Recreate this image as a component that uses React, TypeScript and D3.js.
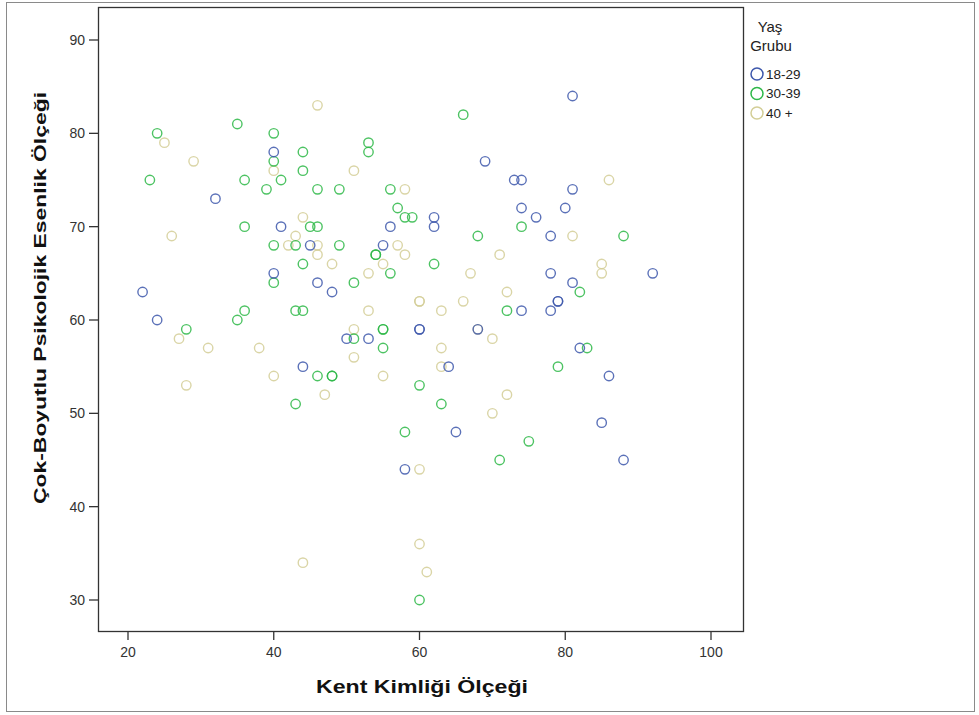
import React from "react";
import * as d3 from "d3";

const xTicks = [20, 40, 60, 80, 100];
const yTicks = [30, 40, 50, 60, 70, 80, 90];
const groups = ["18-29", "30-39", "40 +"];
const colors = ["#3E58AC", "#2EB848", "#D3CE97"];

const blueX = [22, 24, 32, 40, 40, 41, 45, 44, 46, 48, 50, 53, 55, 56, 60, 60, 62, 62, 64, 65, 58, 68, 69, 73, 74, 74, 76, 74, 78, 78, 78, 79, 79, 80, 81, 81, 81, 82, 85, 86, 88, 92];
const blueY = [63, 60, 73, 78, 65, 70, 68, 55, 64, 63, 58, 58, 68, 70, 59, 59, 71, 70, 55, 48, 44, 59, 77, 75, 75, 72, 71, 61, 69, 65, 61, 62, 62, 72, 84, 74, 64, 57, 49, 54, 45, 65];

const greenX = [23, 24, 28, 35, 35, 36, 36, 36, 39, 40, 40, 40, 40, 41, 43, 43, 43, 44, 44, 44, 44, 45, 46, 46, 46, 48, 48, 49, 49, 51, 51, 53, 53, 54, 54, 55, 55, 55, 56, 56, 57, 58, 59, 58, 60, 60, 62, 63, 66, 68, 71, 72, 74, 75, 79, 82, 83, 88];
const greenY = [75, 80, 59, 81, 60, 75, 70, 61, 74, 80, 77, 68, 64, 75, 68, 61, 51, 78, 76, 66, 61, 70, 70, 74, 54, 54, 54, 74, 68, 64, 58, 79, 78, 67, 67, 59, 59, 57, 74, 65, 72, 71, 71, 48, 53, 30, 66, 51, 82, 69, 45, 61, 70, 47, 55, 63, 57, 69];

const tanX = [25, 26, 27, 28, 29, 31, 38, 40, 40, 42, 43, 44, 44, 46, 46, 46, 47, 48, 51, 51, 51, 53, 53, 55, 55, 57, 58, 58, 60, 60, 60, 60, 61, 63, 63, 63, 66, 67, 68, 70, 70, 71, 72, 72, 81, 85, 85, 86];
const tanY = [79, 69, 58, 53, 77, 57, 57, 76, 54, 68, 69, 71, 34, 83, 68, 67, 52, 66, 76, 59, 56, 65, 61, 66, 54, 68, 74, 67, 62, 62, 44, 36, 33, 61, 57, 55, 62, 65, 59, 58, 50, 67, 63, 52, 69, 66, 65, 75];

const W = 979;
const H = 715;
const frame = { left: 98, right: 743, top: 7, bottom: 631 };

export default function App() {
  const x = d3.scaleLinear().domain([20, 100]).range([128, 711]);
  const y = d3.scaleLinear().domain([30, 90]).range([600, 40]);

  const series = [
    { xs: tanX, ys: tanY, c: colors[2] },
    { xs: greenX, ys: greenY, c: colors[1] },
    { xs: blueX, ys: blueY, c: colors[0] },
  ];

  return (
    <svg
      width={W}
      height={H}
      style={{ position: "absolute", left: 0, top: 0, background: "#fff" }}
      fontFamily="'Liberation Sans', Arial, sans-serif"
    >
      <rect x={0} y={0} width={W} height={H} fill="#fff" />
      <rect x={6.5} y={2.5} width={968} height={709} fill="none" stroke="#8a8a8a" strokeWidth={1} />
      <rect
        x={frame.left + 0.5}
        y={frame.top + 0.5}
        width={frame.right - frame.left}
        height={frame.bottom - frame.top}
        fill="none"
        stroke="#333"
        strokeWidth={1.3}
      />
      {yTicks.map((t) => (
        <g key={"y" + t}>
          <line x1={89} x2={frame.left} y1={y(t)} y2={y(t)} stroke="#333" strokeWidth={1.3} />
          <text x={85} y={y(t)} dy="0.35em" textAnchor="end" fontSize={14} fill="#333">
            {t}
          </text>
        </g>
      ))}
      {xTicks.map((t) => (
        <g key={"x" + t}>
          <line x1={x(t)} x2={x(t)} y1={frame.bottom} y2={640} stroke="#333" strokeWidth={1.3} />
          <text x={x(t)} y={652} dy="0.35em" textAnchor="middle" fontSize={14} fill="#333">
            {t}
          </text>
        </g>
      ))}
      <text
        x={422}
        y={686}
        dy="0.35em"
        textAnchor="middle"
        fontSize={19}
        fontWeight="bold"
        fill="#111"
        textLength={212}
        lengthAdjust="spacingAndGlyphs"
      >
        Kent Kimliği Ölçeği
      </text>
      <text
        transform={`translate(40,298) rotate(-90)`}
        dy="0.35em"
        textAnchor="middle"
        fontSize={17}
        fontWeight="bold"
        fill="#111"
        textLength={412}
        lengthAdjust="spacingAndGlyphs"
      >
        Çok-Boyutlu Psikolojik Esenlik Ölçeği
      </text>
      {series.map((s, si) =>
        s.xs.map((v, i) => (
          <circle
            key={si + "-" + i}
            cx={x(v)}
            cy={y(s.ys[i])}
            r={4.7}
            fill="none"
            stroke={s.c}
            strokeWidth={1.4}
            strokeOpacity={0.85}
          />
        ))
      )}
      <text x={770} y={27} dy="0.35em" textAnchor="middle" fontSize={15} fill="#222">
        Yaş
      </text>
      <text x={771} y={46} dy="0.35em" textAnchor="middle" fontSize={15} fill="#222">
        Grubu
      </text>
      {groups.map((g, i) => (
        <g key={g}>
          <circle cx={757} cy={74 + i * 19.5} r={6} fill="none" stroke={colors[i]} strokeWidth={1.5} />
          <text x={766} y={74 + i * 19.5} dy="0.35em" fontSize={13.5} fill="#222">
            {g}
          </text>
        </g>
      ))}
    </svg>
  );
}
